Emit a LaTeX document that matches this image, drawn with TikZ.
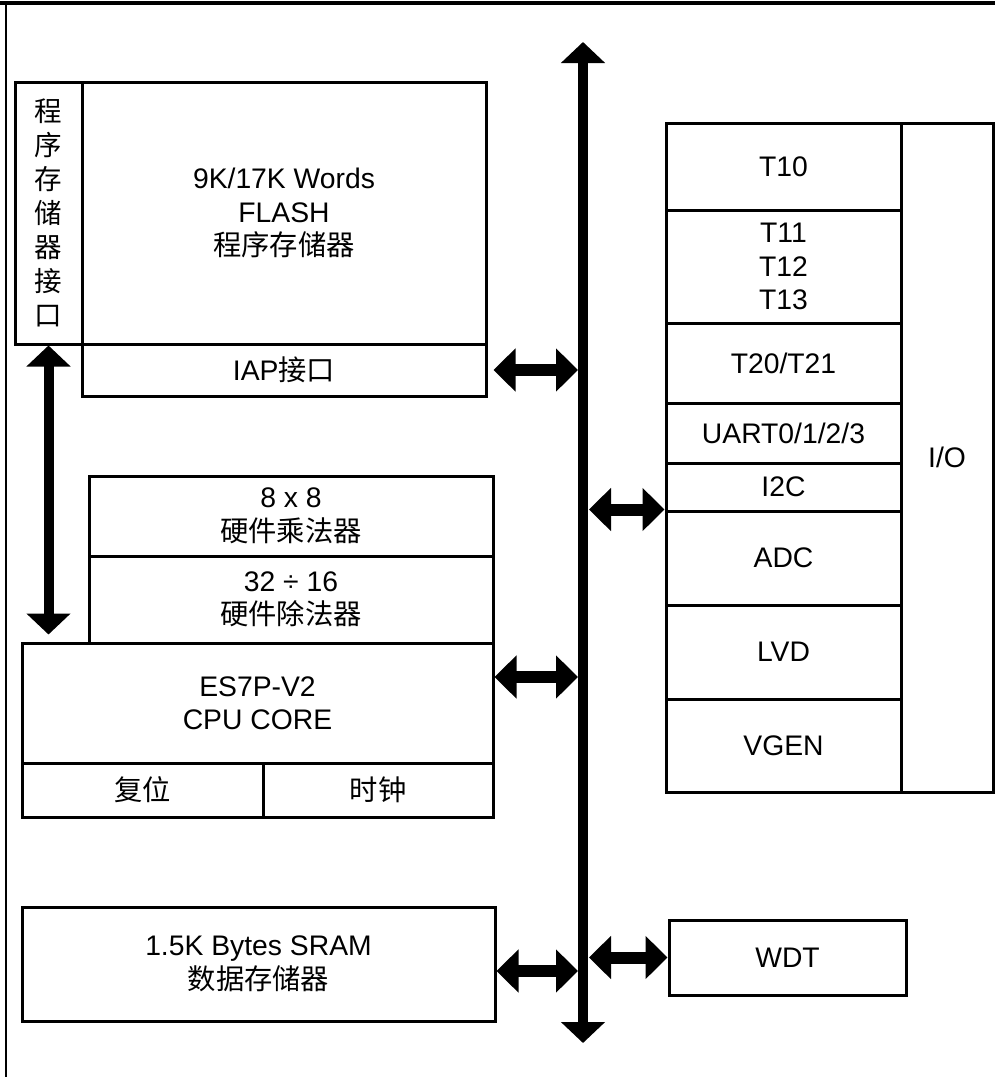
\documentclass[tikz,border=0pt]{standalone}
\usepackage{fontspec}
\setmainfont{Liberation Sans}
\newfontfamily\cjk{Noto Sans CJK SC}
\usetikzlibrary{arrows.meta}
\begin{document}
\begin{tikzpicture}[x=1pt,y=-1pt,
  box/.style={draw, line width=3pt, inner sep=0pt, align=center,
    font=\fontsize{28.3}{33.5}\selectfont},
  dbl/.style={line width=12pt, {Triangle[width=42pt,length=22pt]}-{Triangle[width=42pt,length=22pt]}},
  vdbl/.style={line width=10pt, {Triangle[width=43pt,length=21pt]}-{Triangle[width=43pt,length=21pt]}}]
\useasboundingbox (0,0) rectangle (995,1077);
% frame
\draw[line width=4pt] (0,3) -- (995,3);
\draw[line width=2pt] (6,1) -- (6,1077);
% left blocks
\node[box, minimum width=67pt, minimum height=262pt, font=\cjk\fontsize{27.5}{34}\selectfont] (pmi) at (48.5,213) {程\\序\\存\\储\\器\\接\\口};
\node[box, minimum width=404pt, minimum height=262pt] (flash) at (284,213) {9K/17K Words\\FLASH\\{\cjk 程序存储器}};
\node[box, minimum width=404pt, minimum height=52pt] (iap) at (284,370) {IAP{\cjk 接口}};
\node[box, minimum width=404pt, minimum height=80pt] (mul) at (291,516) {8 x 8\\{\cjk 硬件乘法器}};
\node[box, minimum width=404pt, minimum height=87pt] (div) at (291,599.5) {32 ÷ 16\\{\cjk 硬件除法器}};
\node[box, minimum width=471pt, minimum height=120pt] (cpu) at (257.5,703) {ES7P-V2\\CPU CORE};
\node[box, minimum width=241pt, minimum height=54pt] (reset) at (142.5,790) {\cjk 复位};
\node[box, minimum width=230pt, minimum height=54pt] (clock) at (378,790) {\cjk 时钟};
\node[box, minimum width=473pt, minimum height=114pt] (sram) at (258.5,964) {1.5K Bytes SRAM\\{\cjk 数据存储器}};
% right blocks
\node[box, minimum width=235pt, minimum height=87pt] (t10) at (783.5,166.5) {T10};
\node[box, minimum width=235pt, minimum height=113pt] (t11) at (783.5,266.5) {T11\\T12\\T13};
\node[box, minimum width=235pt, minimum height=80pt] (t20) at (783.5,363) {T20/T21};
\node[box, minimum width=235pt, minimum height=60pt] (uart) at (783.5,433) {UART0/1/2/3};
\node[box, minimum width=235pt, minimum height=48pt] (i2c) at (783.5,487) {I2C};
\node[box, minimum width=235pt, minimum height=94pt] (adc) at (783.5,558) {ADC};
\node[box, minimum width=235pt, minimum height=94pt] (lvd) at (783.5,652) {LVD};
\node[box, minimum width=235pt, minimum height=93pt] (vgen) at (783.5,745.5) {VGEN};
\node[box, minimum width=92pt, minimum height=669pt] (io) at (947,457.5) {I/O};
\node[box, minimum width=237pt, minimum height=75pt] (wdt) at (787.5,957.5) {WDT};
% bus
\coordinate (bt) at (583,42);
\coordinate (bb) at (583,1043);
\coordinate (busL) at (578,0);
\coordinate (busR) at (589,0);
\draw[vdbl] (bt) -- (bb);
% connectors
\draw[dbl, shorten <=6pt] (iap.east) -- (iap.east -| busL);
\draw[dbl] ([yshift=26pt]cpu.east) -- ([yshift=26pt]cpu.east -| busL);
\draw[dbl] ([yshift=-7pt]sram.east) -- ([yshift=-7pt]sram.east -| busL);
\draw[dbl] (wdt.west -| busR) -- (wdt.west);
\draw[dbl] (adc.north west -| busR) -- (adc.north west);
\draw[vdbl] (pmi.south) -- (pmi.south |- cpu.north) [shorten >=7pt];
\end{tikzpicture}
\end{document}
